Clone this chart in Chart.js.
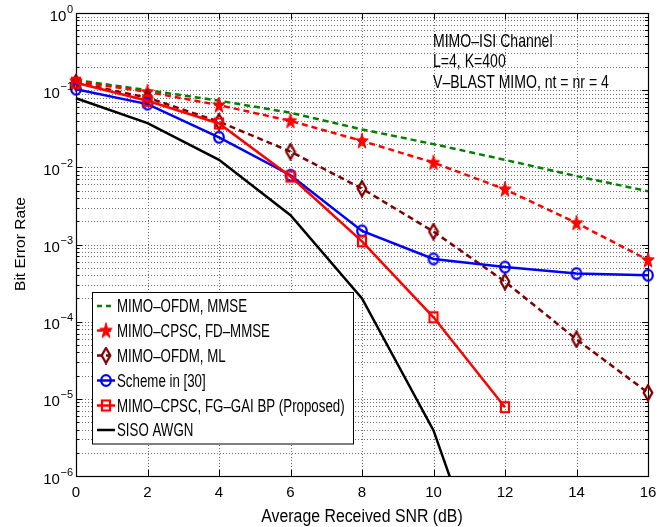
<!DOCTYPE html>
<html>
<head>
<meta charset="utf-8">
<script src="https://cdn.jsdelivr.net/npm/chart.js@4.4.1/dist/chart.umd.min.js"></script>
<style>
  html, body { margin: 0; padding: 0; background: #fff; }
  #wrap { width: 671px; height: 527px; }
</style>
</head>
<body>
<div id="wrap"><canvas id="c" width="671" height="527"></canvas></div>
<script>
// SNR axis points (dB)
const snr = [0, 2, 4, 6, 8, 10, 12, 14, 16];
const snrProposed = [0, 2, 4, 6, 8, 10, 12];
const snrSiso = [0, 2, 4, 6, 8, 10, 12];

// Bit error rate per scheme
const berOfdmMmse   = [0.135, 0.100, 0.073, 0.051, 0.031, 0.020, 0.0125, 0.0077, 0.0049];
const berCpscFdMmse = [0.130, 0.095, 0.064, 0.040, 0.022, 0.0115, 0.0052, 0.0019, 0.00063];
const berOfdmMl     = [0.125, 0.080, 0.039, 0.016, 0.0053, 0.00147, 0.00033, 0.000059, 0.000012];
const berScheme30   = [0.103, 0.066, 0.0245, 0.0079, 0.0015, 0.00065, 0.00051, 0.00042, 0.00040];
const berProposed   = [0.125, 0.073, 0.037, 0.0076, 0.0011, 0.000114, 0.0000078];
const berSiso       = [0.0786, 0.0375, 0.0125, 0.0024, 0.00020, 0.0000039, 0.000000009];

// Series names and axis labels
const seriesNames = [
  'MIMO\u2013OFDM, MMSE',
  'MIMO\u2013CPSC, FD\u2013MMSE',
  'MIMO\u2013OFDM, ML',
  'Scheme in [30]',
  'MIMO\u2013CPSC, FG\u2013GAI BP (Proposed)',
  'SISO AWGN'
];
const xTicks = [0, 2, 4, 6, 8, 10, 12, 14, 16];
const yDecades = [0, -1, -2, -3, -4, -5, -6];
const xTitle = 'Average Received SNR (dB)';
const yTitle = 'Bit Error Rate';
const noteLines = ['MIMO\u2013ISI Channel', 'L=4, K=400', 'V\u2013BLAST MIMO, nt = nr = 4'];

const FONT = '"Liberation Sans", Arial, Helvetica, sans-serif';
const GREEN = '#008000', RED = '#ff0000', MAROON = '#800000', BLUE = '#0000ff', BLACK = '#000000';
const LINE_W = 2.5;

// ---------- marker images ----------
function makeCanvas(w, h) {
  const c = document.createElement('canvas');
  c.width = w; c.height = h;
  return c;
}
function starMarker(color) {
  const c = makeCanvas(16, 18), g = c.getContext('2d');
  const cx = 8, cy = 9.5, R = 8.2, r = R * 0.4, sx = 0.8;
  g.beginPath();
  for (let i = 0; i < 10; i++) {
    const rad = (i % 2 === 0) ? R : r;
    const a = -Math.PI / 2 + i * Math.PI / 5;
    const px = cx + rad * Math.cos(a) * sx, py = cy + rad * Math.sin(a);
    if (i === 0) g.moveTo(px, py); else g.lineTo(px, py);
  }
  g.closePath();
  g.fillStyle = color; g.fill();
  g.strokeStyle = color; g.lineWidth = 1; g.stroke();
  return c;
}
function diamondMarker(color) {
  const c = makeCanvas(12, 18), g = c.getContext('2d');
  g.beginPath();
  g.moveTo(6, 1.5); g.lineTo(10.3, 9); g.lineTo(6, 16.5); g.lineTo(1.7, 9); g.closePath();
  g.strokeStyle = color; g.lineWidth = 2.3; g.stroke();
  return c;
}
function circleMarker(color) {
  const c = makeCanvas(14, 15), g = c.getContext('2d');
  g.beginPath();
  g.ellipse(7, 7.5, 4.8, 5.4, 0, 0, Math.PI * 2);
  g.strokeStyle = color; g.lineWidth = 2.2; g.stroke();
  return c;
}
function squareMarker(color) {
  const c = makeCanvas(12, 14), g = c.getContext('2d');
  g.strokeStyle = color; g.lineWidth = 2.2;
  g.strokeRect(2, 2, 8, 10);
  return c;
}

const markers = [null, starMarker(RED), diamondMarker(MAROON), circleMarker(BLUE), squareMarker(RED), null];
const colors = [GREEN, RED, MAROON, BLUE, RED, BLACK];
const dashes = [[6, 4], [6, 4], [6, 4], [], [], []];
const xsets = [snr, snr, snr, snr, snrProposed, snrSiso];
const ysets = [berOfdmMmse, berCpscFdMmse, berOfdmMl, berScheme30, berProposed, berSiso];

const datasets = seriesNames.map((name, i) => ({
  label: name,
  data: xsets[i].map((x, k) => ({ x: x, y: ysets[i][k] })),
  borderColor: colors[i],
  backgroundColor: colors[i],
  borderWidth: LINE_W,
  borderDash: dashes[i],
  tension: 0,
  pointStyle: markers[i] || 'circle',
  pointRadius: markers[i] ? 6 : 0,
  pointHoverRadius: markers[i] ? 6 : 0,
  clip: { left: 12, right: 12, top: 0, bottom: 0 },
  order: seriesNames.length - i
}));

function drawText(ctx, s, x, y, font, align, sx) {
  ctx.save();
  ctx.font = font;
  ctx.textAlign = align;
  ctx.textBaseline = 'alphabetic';
  ctx.fillStyle = '#000';
  ctx.translate(x, y);
  ctx.scale(sx, 1);
  ctx.fillText(s, 0, 0);
  ctx.restore();
}

// Grid, axes box and inward ticks under the curves; labels, note and legend on top
const framePlugin = {
  id: 'frame',
  beforeDatasetsDraw(chart) {
    const ctx = chart.ctx, a = chart.chartArea;
    const xs = chart.scales.x, ys = chart.scales.y;
    ctx.save();
    ctx.strokeStyle = '#6e6e6e';
    ctx.lineWidth = 1;
    ctx.setLineDash([1, 2]);
    xTicks.forEach(v => {
      const px = Math.round(xs.getPixelForValue(v)) + 0.5;
      ctx.beginPath(); ctx.moveTo(px, a.top); ctx.lineTo(px, a.bottom); ctx.stroke();
    });
    yDecades.forEach(e => {
      for (let m = 1; m <= 9; m++) {
        if (e === 0 && m > 1) continue;
        const py = Math.round(ys.getPixelForValue(m * Math.pow(10, e))) + 0.5;
        ctx.beginPath(); ctx.moveTo(a.left, py); ctx.lineTo(a.right, py); ctx.stroke();
      }
    });
    ctx.setLineDash([]);
    ctx.strokeStyle = '#000';
    xTicks.forEach(v => {
      const px = Math.round(xs.getPixelForValue(v)) + 0.5;
      ctx.beginPath();
      ctx.moveTo(px, a.bottom); ctx.lineTo(px, a.bottom - 6);
      ctx.moveTo(px, a.top); ctx.lineTo(px, a.top + 6);
      ctx.stroke();
    });
    yDecades.forEach(e => {
      for (let m = 1; m <= 9; m++) {
        if (e === 0 && m > 1) continue;
        const py = Math.round(ys.getPixelForValue(m * Math.pow(10, e))) + 0.5;
        const len = m === 1 ? 6 : 3;
        ctx.beginPath();
        ctx.moveTo(a.left, py); ctx.lineTo(a.left + len, py);
        ctx.moveTo(a.right, py); ctx.lineTo(a.right - len, py);
        ctx.stroke();
      }
    });
    ctx.lineWidth = 1.2;
    ctx.strokeRect(Math.round(a.left) + 0.5, Math.round(a.top) + 0.5,
                   Math.round(a.right - a.left), Math.round(a.bottom - a.top));
    ctx.restore();
  },
  afterDatasetsDraw(chart) {
    const ctx = chart.ctx;
    const xs = chart.scales.x, ys = chart.scales.y;

    // x tick labels
    xTicks.forEach(v => {
      drawText(ctx, String(v), xs.getPixelForValue(v), 497, '15px ' + FONT, 'center', 1);
    });
    // y tick labels as powers of ten
    yDecades.forEach(e => {
      const py = ys.getPixelForValue(Math.pow(10, e));
      const expStr = e === 0 ? '0' : '\u2212' + Math.abs(e);
      ctx.save();
      ctx.font = '11px ' + FONT;
      const ew = ctx.measureText(expStr).width;
      ctx.restore();
      const right = 73;
      drawText(ctx, expStr, right - ew, py - 0.5, '11px ' + FONT, 'left', 1);
      drawText(ctx, '10', right - ew - 0.5, py + 7.5, '15px ' + FONT, 'right', 1);
    });
    // axis titles
    drawText(ctx, xTitle, 362, 522, '18px ' + FONT, 'center', 0.88);
    ctx.save();
    ctx.translate(25, 244);
    ctx.rotate(-Math.PI / 2);
    drawText(ctx, yTitle, 0, 0, '15.5px ' + FONT, 'center', 1);
    ctx.restore();

    // channel description
    const noteY = [46.5, 67, 87.5];
    noteLines.forEach((s, i) => drawText(ctx, s, 433, noteY[i], '19px ' + FONT, 'left', 0.74));

    // legend box
    const lx = 92.5, ly = 292.5, lw = 261, lh = 151.5;
    ctx.save();
    ctx.fillStyle = '#fff';
    ctx.fillRect(lx, ly, lw, lh);
    ctx.strokeStyle = '#000';
    ctx.lineWidth = 1;
    ctx.strokeRect(lx, ly, lw, lh);
    ctx.restore();
    const rowY = [306, 330.5, 355.5, 380.5, 405.5, 430];
    seriesNames.forEach((name, i) => {
      const cy = rowY[i];
      ctx.save();
      ctx.strokeStyle = colors[i];
      ctx.lineWidth = LINE_W;
      ctx.setLineDash(dashes[i].length ? [5, 4] : []);
      ctx.beginPath(); ctx.moveTo(97, cy); ctx.lineTo(115, cy); ctx.stroke();
      ctx.restore();
      if (markers[i]) {
        const m = markers[i];
        ctx.drawImage(m, 106 - m.width / 2, cy - m.height / 2);
      }
      drawText(ctx, name, 117, cy + 6.3, '17.5px ' + FONT, 'left', 0.76);
    });
  }
};

new Chart(document.getElementById('c'), {
  type: 'line',
  data: { datasets: datasets },
  options: {
    responsive: false,
    animation: false,
    devicePixelRatio: 1,
    layout: { padding: { top: 13, right: 23, left: 0, bottom: 0 } },
    plugins: { legend: { display: false }, tooltip: { enabled: false } },
    events: [],
    scales: {
      x: {
        type: 'linear', min: 0, max: 16,
        ticks: { display: false, stepSize: 2 },
        grid: { display: false },
        border: { display: false },
        afterFit(s) { s.height = 51; }
      },
      y: {
        type: 'logarithmic', min: 1e-6, max: 1,
        ticks: { display: false },
        grid: { display: false },
        border: { display: false },
        afterFit(s) { s.width = 76; }
      }
    }
  },
  plugins: [framePlugin]
});
</script>
</body>
</html>
